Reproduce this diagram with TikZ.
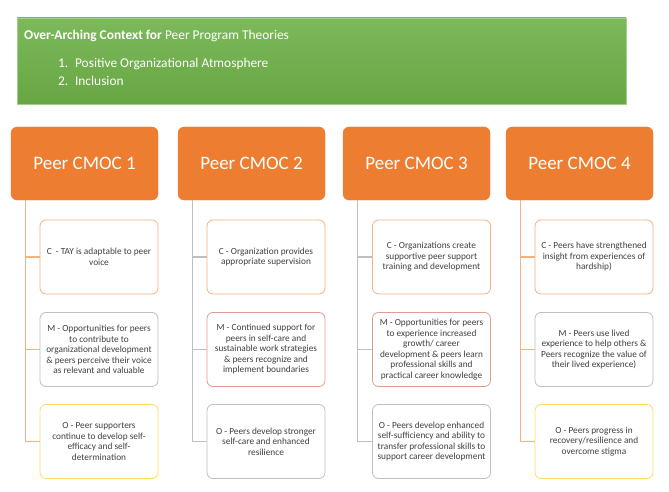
\documentclass[tikz,border=0pt]{standalone}
\usepackage{fontspec}
\setmainfont{Carlito}
\usepackage{tikz}
\usetikzlibrary{positioning,calc}
\definecolor{HeadOrange}{RGB}{237,125,49}
\definecolor{LightOrange}{RGB}{244,177,131}
\definecolor{BoxGray}{RGB}{191,191,191}
\definecolor{BoxRed}{RGB}{224,156,140}
\definecolor{BoxGold}{RGB}{255,217,102}
\definecolor{TopGreen}{RGB}{124,185,92}
\definecolor{LowGreen}{RGB}{104,165,67}
\definecolor{TextGray}{RGB}{64,64,64}
\hyphenpenalty=10000

\begin{document}
\begin{tikzpicture}[x=1pt,y=-1pt,
    head/.style={fill=HeadOrange, draw=HeadOrange, rounded corners=6pt, minimum width=147pt,
      minimum height=73pt, text=white, font=\fontsize{19}{22}\selectfont},
    item/.style={draw=#1, line width=0.8pt, fill=white, rounded corners=6pt, minimum width=118pt,
      minimum height=74pt, align=center, inner sep=1pt, text=TextGray,
      font=\fontsize{9.3}{10.5}\selectfont},
    ctxtext/.style={anchor=west, text=white, inner sep=0pt, font=\fontsize{13.4}{15}\selectfont},
    conn/.style={draw=#1, line width=1.3pt}]
  \useasboundingbox (0,0) rectangle (669,492);
  % context banner
  \shade[top color=TopGreen, bottom color=LowGreen, draw=TopGreen!70!white] (17,18) rectangle (626,104);
  \node[ctxtext] (ctx) at (24,36) {\textbf{Over-Arching Context for} Peer Program Theories};
  \node[ctxtext] (ctxa) at (58,64) {1.\enspace Positive Organizational Atmosphere};
  \node[ctxtext] (ctxb) at (58,81) {2.\enspace Inclusion};

  % headers
  \node[head] (h1) at (84.5,163.5) {Peer CMOC 1};
  \node[head] (h2) at (251.5,163.5) {Peer CMOC 2};
  \node[head] (h3) at (416.5,163.5) {Peer CMOC 3};
  \node[head] (h4) at (579.5,163.5) {Peer CMOC 4};

  % CMOC 1
  \node[item=LightOrange] (c1) at (99,257) {C \ - TAY is adaptable to peer\\voice};
  \node[item=BoxGray] (m1) at (99,349.5) {M - Opportunities for peers\\to contribute to\\organizational development\\\& peers perceive their voice\\as relevant and valuable};
  \node[item=BoxGold] (o1) at (99,441.5) {O - Peer supporters\\continue to develop self-\\efficacy and self-\\determination};

  % CMOC 2
  \node[item=LightOrange] (c2) at (266,257) {C - Organization provides\\appropriate supervision};
  \node[item=BoxRed] (m2) at (266,349.5) {M - Continued support for\\peers in self-care and\\sustainable work strategies\\\& peers recognize and\\implement boundaries};
  \node[item=BoxGray] (o2) at (266,441.5) {O - Peers develop stronger\\self-care and enhanced\\resilience};

  % CMOC 3
  \node[item=LightOrange] (c3) at (431.5,257) {C - Organizations create\\supportive peer support\\training and development};
  \node[item=BoxRed] (m3) at (431.5,349.5) {M - Opportunities for peers\\to experience increased\\growth/ career\\development \& peers learn\\professional skills and\\practical career knowledge};
  \node[item=BoxGray] (o3) at (431.5,441.5) {O - Peers develop enhanced\\self-sufficiency and ability to\\transfer professional skills to\\support career development};

  % CMOC 4
  \node[item=LightOrange] (c4) at (594,257) {C - Peers have strengthened\\insight from experiences of\\hardship)};
  \node[item=BoxGray] (m4) at (594,349.5) {M - Peers use lived\\experience to help others \&\\Peers recognize the value of\\their lived experience)};
  \node[item=BoxGold] (o4) at (594,441.5) {O - Peers progress in\\recovery/resilience and\\overcome stigma};

  % connectors
  \foreach \n/\col in {1/LightOrange,2/BoxGray,3/BoxGray,4/LightOrange}{
    \draw[conn=\col] ([xshift=14.5pt]h\n.south west) |- (o\n.west);
    \draw[conn=\col] ([xshift=14.5pt]h\n.south west) |- (c\n.west);
    \draw[conn=\col] ([xshift=14.5pt]h\n.south west) |- (m\n.west);
  }
\end{tikzpicture}
\end{document}
